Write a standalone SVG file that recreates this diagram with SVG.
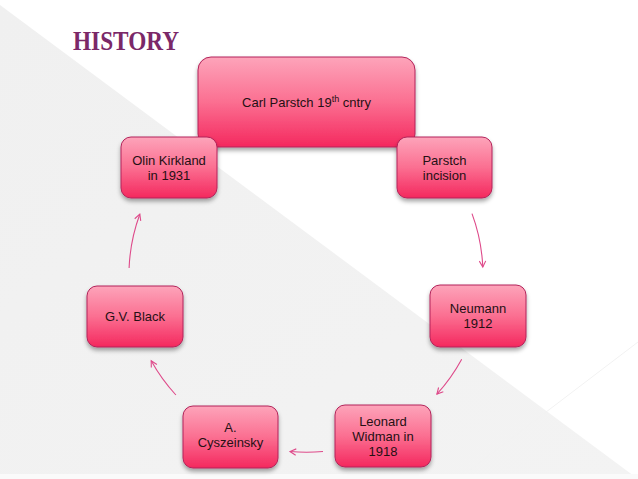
<svg xmlns="http://www.w3.org/2000/svg" width="638" height="479" viewBox="0 0 638 479">
<style>
.box{fill:url(#pinkGrad);stroke:#b3235a;stroke-width:1;filter:url(#shadow)}
.lbl{font-family:"Liberation Sans",Arial,sans-serif;font-size:13px;fill:#261014;text-anchor:middle}
.conn{fill:none;stroke:#de4a8a;stroke-width:1.1;marker-end:url(#arrow)}
.title{font-family:"Liberation Serif","Times New Roman",serif;font-weight:bold;font-size:27px;fill:#7b2868}
</style>
<defs>
<linearGradient id="pinkGrad" x1="0" y1="0" x2="0" y2="1">
<stop offset="0" stop-color="#fda4ba"/>
<stop offset="0.5" stop-color="#fb6f91"/>
<stop offset="1" stop-color="#f4285e"/>
</linearGradient>
<linearGradient id="bgGrad" x1="0" y1="0" x2="1" y2="1">
<stop offset="0" stop-color="#f0f0f0"/>
<stop offset="1" stop-color="#f3f3f3"/>
</linearGradient>
<filter id="shadow" x="-20%" y="-20%" width="140%" height="150%">
<feDropShadow dx="0" dy="3" stdDeviation="2" flood-color="#000" flood-opacity="0.35"/>
</filter>
<marker id="arrow" viewBox="0 0 10 10" refX="8" refY="5" markerWidth="10" markerHeight="10" markerUnits="userSpaceOnUse" orient="auto">
<path d="M2,1.8 L8,5 L2,8.2" fill="none" stroke="#de4a8a" stroke-width="1.1"/>
</marker>
</defs>
<g id="background">
<rect x="0" y="0" width="638" height="479" fill="#ffffff"/>
<polygon points="0,5 638,479 0,479" fill="url(#bgGrad)"/>
<rect x="0" y="474" width="638" height="5" fill="#fafafa"/>
<line x1="638" y1="342" x2="470" y2="470" stroke="#f2f2f2" stroke-width="1"/>
</g>
<text class="title" x="73" y="50" textLength="106" lengthAdjust="spacingAndGlyphs">HISTORY</text>
<g id="connectors">
<path class="conn" d="M472,213.6 A177,177 0 0 1 482.8,267"/>
<path class="conn" d="M461.7,359.2 A177,177 0 0 1 436.9,394.1"/>
<path class="conn" d="M323,451.5 A177,177 0 0 1 290,451.5"/>
<path class="conn" d="M175.9,395 A177,177 0 0 1 151.2,360.8"/>
<path class="conn" d="M129.1,267.9 A177,177 0 0 1 139.8,214.2"/>
</g>
<g id="node-carl">
<rect class="box" x="198" y="57" width="217" height="90" rx="13"/>
<text class="lbl" x="306.5" y="107" font-size="13.5">Carl Parstch 19<tspan font-size="9" dy="-5">th</tspan><tspan dy="5"> cntry</tspan></text>
</g>
<g id="node-olin">
<rect class="box" x="121" y="137" width="96" height="61" rx="10"/>
<text class="lbl" x="169" y="164.7">Olin Kirkland</text>
<text class="lbl" x="169" y="179.7">in 1931</text>
</g>
<g id="node-parstch">
<rect class="box" x="397" y="137" width="95" height="61" rx="10"/>
<text class="lbl" x="444.5" y="164.7">Parstch</text>
<text class="lbl" x="444.5" y="179.7">incision</text>
</g>
<g id="node-neumann">
<rect class="box" x="430" y="285" width="96" height="62" rx="10"/>
<text class="lbl" x="478" y="312.5">Neumann</text>
<text class="lbl" x="478" y="327.5">1912</text>
</g>
<g id="node-leonard">
<rect class="box" x="335" y="405" width="96" height="62" rx="10"/>
<text class="lbl" x="383" y="425.6">Leonard</text>
<text class="lbl" x="383" y="440.6">Widman in</text>
<text class="lbl" x="383" y="455.6">1918</text>
</g>
<g id="node-cyszeinsky">
<rect class="box" x="183" y="406" width="95" height="62" rx="10"/>
<text class="lbl" x="230.5" y="432">A.</text>
<text class="lbl" x="230.5" y="447">Cyszeinsky</text>
</g>
<g id="node-black">
<rect class="box" x="87" y="286" width="96" height="61" rx="10"/>
<text class="lbl" x="135" y="321">G.V. Black</text>
</g>
</svg>
